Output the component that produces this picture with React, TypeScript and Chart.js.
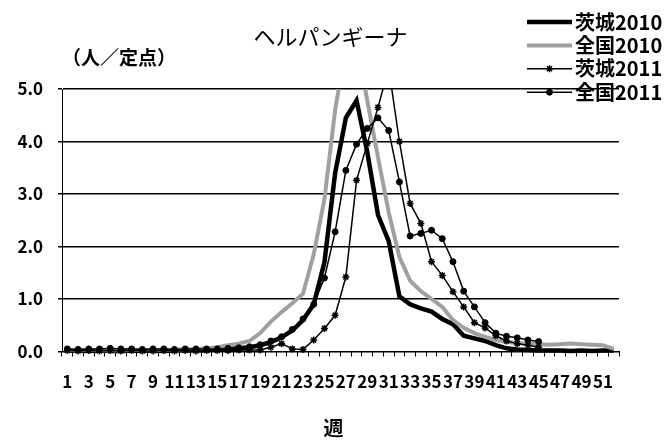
import React, { useEffect, useRef } from 'react';
import { Chart, registerables } from 'chart.js';
import { drawPoint } from 'chart.js/helpers';

Chart.register(...registerables);

const weeks = ['1','2','3','4','5','6','7','8','9','10','11','12','13','14','15','16','17','18','19','20','21','22','23','24','25','26','27','28','29','30','31','32','33','34','35','36','37','38','39','40','41','42','43','44','45','46','47','48','49','50','51','52'];

const ibaraki2010 = [0.02,0.02,0.01,0.02,0.01,0.01,0.02,0.01,0.02,0.01,0.02,0.03,0.02,0.03,0.04,0.05,0.06,0.08,0.12,0.18,0.27,0.4,0.6,0.9,1.7,3.4,4.45,4.78,3.8,2.6,2.1,1.05,0.9,0.82,0.76,0.62,0.52,0.3,0.25,0.2,0.12,0.06,0.04,0.03,0.02,0.02,0.02,0.01,0.02,0.01,0.02,0.02];

const zenkoku2010 = [0.03,0.03,0.03,0.03,0.02,0.03,0.03,0.03,0.03,0.03,0.04,0.04,0.05,0.06,0.08,0.12,0.15,0.2,0.35,0.57,0.75,0.92,1.1,1.85,2.9,4.6,5.8,5.9,4.78,3.7,2.65,1.8,1.35,1.15,1.0,0.85,0.6,0.45,0.35,0.28,0.22,0.18,0.16,0.15,0.14,0.13,0.14,0.15,0.14,0.13,0.12,0.05];

const ibaraki2011 = [0.02,0.01,0.02,0.01,0.02,0.01,0.02,0.01,0.01,0.02,0.01,0.02,0.01,0.02,0.02,0.02,0.03,0.03,0.03,0.08,0.15,0.05,0.04,0.22,0.44,0.69,1.42,3.26,3.96,4.65,5.4,4.0,2.82,2.44,1.71,1.45,1.14,0.85,0.55,0.45,0.3,0.2,0.15,0.12,0.08];

const zenkoku2011 = [0.05,0.04,0.05,0.05,0.06,0.05,0.05,0.04,0.05,0.05,0.04,0.05,0.05,0.05,0.05,0.06,0.07,0.09,0.13,0.2,0.28,0.42,0.62,0.9,1.4,2.28,3.45,3.95,4.25,4.45,4.21,3.23,2.2,2.25,2.31,2.15,1.71,1.15,0.85,0.55,0.35,0.29,0.26,0.22,0.19];

const seriesNames = ['茨城2010', '全国2010', '茨城2011', '全国2011'];
const chartTitle = 'ヘルパンギーナ';
const yUnit = '（人／定点）';
const xTitle = '週';

const FONT = '"Noto Sans CJK JP", "Noto Sans", sans-serif';

const overlayPlugin = {
  id: 'overlay',
  afterDraw(chart: any) {
    const ctx = chart.ctx as CanvasRenderingContext2D;
    const w = chart.width;
    ctx.save();
    ctx.fillStyle = '#000';
    ctx.textBaseline = 'middle';

    ctx.textAlign = 'center';
    ctx.font = `normal 22px ${FONT}`;
    ctx.fillText(chartTitle, w / 2 - 3, 37);

    ctx.font = `bold 20px ${FONT}`;
    ctx.fillText(xTitle, w / 2, 428);

    ctx.textAlign = 'left';
    ctx.font = `bold 19px ${FONT}`;
    ctx.fillText(yUnit, 62, 58);

    chart.data.datasets.forEach((ds: any, i: number) => {
      const y = 22 + i * 23.4;
      ctx.beginPath();
      ctx.strokeStyle = ds.borderColor;
      ctx.lineWidth = ds.borderWidth;
      ctx.moveTo(527, y);
      ctx.lineTo(572, y);
      ctx.stroke();
      if (ds.pointRadius > 0) {
        ctx.fillStyle = ds.pointBackgroundColor;
        ctx.strokeStyle = ds.pointBorderColor;
        ctx.lineWidth = ds.pointBorderWidth;
        drawPoint(ctx, { pointStyle: ds.pointStyle, radius: ds.pointRadius, rotation: 0, borderWidth: ds.pointBorderWidth } as any, 549.5, y);
      }
      ctx.fillStyle = '#000';
      ctx.font = `bold 20px ${FONT}`;
      ctx.fillText(ds.label, 575, y);
    });
    ctx.restore();
  },
};

export default function App() {
  const ref = useRef<HTMLCanvasElement | null>(null);

  useEffect(() => {
    if (!ref.current) return;
    const clip = { left: 6, right: 6, top: 0, bottom: 6 };
    const chart = new Chart(ref.current, {
      type: 'line',
      data: {
        labels: weeks,
        datasets: [
          {
            label: seriesNames[0], data: ibaraki2010, borderColor: '#000', borderWidth: 4.5,
            pointRadius: 0, tension: 0, order: 4, clip,
          },
          {
            label: seriesNames[1], data: zenkoku2010, borderColor: '#a0a0a0', borderWidth: 4,
            pointRadius: 0, tension: 0, order: 3, clip,
          },
          {
            label: seriesNames[2], data: ibaraki2011, borderColor: '#000', borderWidth: 1.5,
            pointRadius: 3.5, pointStyle: 'star', pointBackgroundColor: '#000', pointBorderColor: '#000',
            pointBorderWidth: 1.5, tension: 0, order: 2, clip,
          },
          {
            label: seriesNames[3], data: zenkoku2011, borderColor: '#000', borderWidth: 1.5,
            pointRadius: 3, pointStyle: 'circle', pointBackgroundColor: '#000', pointBorderColor: '#000',
            pointBorderWidth: 1, tension: 0, order: 1, clip,
          },
        ] as any,
      },
      options: {
        animation: false,
        responsive: false,
        devicePixelRatio: 1,
        layout: { padding: { left: 0, right: 48, top: 89, bottom: 0 } },
        plugins: {
          legend: { display: false },
          tooltip: { enabled: false },
          title: { display: false },
        },
        scales: {
          x: {
            type: 'category',
            offset: true,
            grid: { display: true, drawOnChartArea: false, offset: true, drawTicks: true, tickLength: 5, color: '#000', lineWidth: 1 },
            border: { display: true, color: '#000', width: 1 },
            ticks: {
              autoSkip: false,
              maxRotation: 0,
              minRotation: 0,
              padding: 15,
              color: '#000',
              font: { family: FONT, size: 17, weight: 'bold' as any },
              callback: (_v: any, i: number) => (i % 2 === 0 ? weeks[i] : ''),
            },
            afterFit: (s: any) => { s.height = 89.5; },
          },
          y: {
            min: 0,
            max: 5,
            ticks: {
              stepSize: 1,
              padding: 15,
              color: '#000',
              font: { family: FONT, size: 17, weight: 'bold' as any },
              callback: (v: any) => Number(v).toFixed(1),
            },
            grid: { color: '#000', lineWidth: 1.5, tickLength: 4 },
            border: { display: true, color: '#000', width: 1 },
            afterFit: (s: any) => { s.width = 62; },
          },
        },
      } as any,
      plugins: [overlayPlugin],
    });
    return () => chart.destroy();
  }, []);

  return (
    <div style={{ position: 'fixed', left: 0, top: 0, width: 667, height: 441, background: '#fff' }}>
      <canvas ref={ref} width={667} height={441} style={{ width: 667, height: 441, display: 'block' }} />
    </div>
  );
}
